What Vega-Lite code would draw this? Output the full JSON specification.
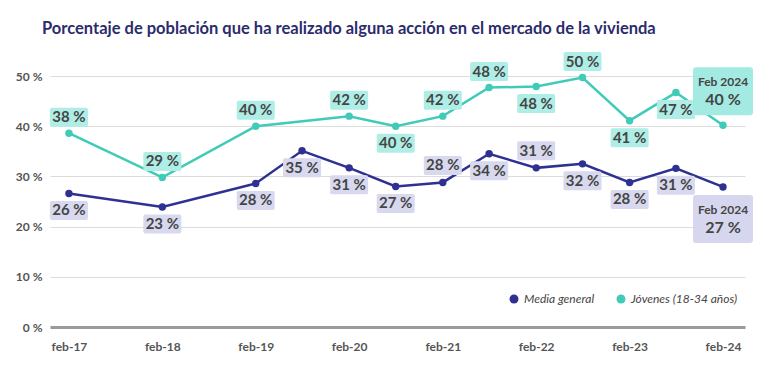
{
  "$schema": "https://vega.github.io/schema/vega-lite/v6.json",
  "width": 695,
  "height": 251,
  "autosize": {"type": "none"},
  "padding": {"left": 50, "top": 76, "right": 28, "bottom": 56},
  "background": "#ffffff",
  "title": {
    "text": "Porcentaje de población que ha realizado alguna acción en el mercado de la vivienda",
    "anchor": "start",
    "frame": "group",
    "dx": -8,
    "offset": 2,
    "baseline": "alphabetic",
    "font": "Lato",
    "fontSize": 16.5,
    "fontWeight": "bold",
    "color": "#2b2c6b"
  },
  "data": {
    "values": [
      {"fecha": "2017-02-15", "serie": "Media general", "valor": 26.6, "etiqueta": "26 %"},
      {"fecha": "2018-02-15", "serie": "Media general", "valor": 23.9, "etiqueta": "23 %"},
      {"fecha": "2019-02-15", "serie": "Media general", "valor": 28.6, "etiqueta": "28 %"},
      {"fecha": "2019-08-15", "serie": "Media general", "valor": 35.1, "etiqueta": "35 %"},
      {"fecha": "2020-02-15", "serie": "Media general", "valor": 31.7, "etiqueta": "31 %"},
      {"fecha": "2020-08-15", "serie": "Media general", "valor": 28.0, "etiqueta": "27 %"},
      {"fecha": "2021-02-15", "serie": "Media general", "valor": 28.8, "etiqueta": "28 %"},
      {"fecha": "2021-08-15", "serie": "Media general", "valor": 34.5, "etiqueta": "34 %"},
      {"fecha": "2022-02-15", "serie": "Media general", "valor": 31.7, "etiqueta": "31 %"},
      {"fecha": "2022-08-15", "serie": "Media general", "valor": 32.5, "etiqueta": "32 %"},
      {"fecha": "2023-02-15", "serie": "Media general", "valor": 28.8, "etiqueta": "28 %"},
      {"fecha": "2023-08-15", "serie": "Media general", "valor": 31.6, "etiqueta": "31 %"},
      {"fecha": "2024-02-15", "serie": "Media general", "valor": 27.9, "etiqueta": "27 %"},
      {"fecha": "2017-02-15", "serie": "Jóvenes (18-34 años)", "valor": 38.6, "etiqueta": "38 %"},
      {"fecha": "2018-02-15", "serie": "Jóvenes (18-34 años)", "valor": 29.8, "etiqueta": "29 %"},
      {"fecha": "2019-02-15", "serie": "Jóvenes (18-34 años)", "valor": 40.0, "etiqueta": "40 %"},
      {"fecha": "2020-02-15", "serie": "Jóvenes (18-34 años)", "valor": 42.0, "etiqueta": "42 %"},
      {"fecha": "2020-08-15", "serie": "Jóvenes (18-34 años)", "valor": 40.0, "etiqueta": "40 %"},
      {"fecha": "2021-02-15", "serie": "Jóvenes (18-34 años)", "valor": 42.0, "etiqueta": "42 %"},
      {"fecha": "2021-08-15", "serie": "Jóvenes (18-34 años)", "valor": 47.7, "etiqueta": "48 %"},
      {"fecha": "2022-02-15", "serie": "Jóvenes (18-34 años)", "valor": 47.9, "etiqueta": "48 %"},
      {"fecha": "2022-08-15", "serie": "Jóvenes (18-34 años)", "valor": 49.7, "etiqueta": "50 %"},
      {"fecha": "2023-02-15", "serie": "Jóvenes (18-34 años)", "valor": 41.1, "etiqueta": "41 %"},
      {"fecha": "2023-08-15", "serie": "Jóvenes (18-34 años)", "valor": 46.7, "etiqueta": "47 %"},
      {"fecha": "2024-02-15", "serie": "Jóvenes (18-34 años)", "valor": 40.2, "etiqueta": "40 %"}
    ]
  },
  "encoding": {
    "x": {
      "field": "fecha",
      "type": "temporal",
      "title": null,
      "scale": {
        "type": "utc",
        "domain": [
          {"year": 2016, "month": 12, "date": 3, "utc": true},
          {"year": 2024, "month": 5, "date": 11, "utc": true}
        ]
      },
      "axis": {
        "values": [
          {"year": 2017, "month": 2, "date": 15, "utc": true},
          {"year": 2018, "month": 2, "date": 15, "utc": true},
          {"year": 2019, "month": 2, "date": 15, "utc": true},
          {"year": 2020, "month": 2, "date": 15, "utc": true},
          {"year": 2021, "month": 2, "date": 15, "utc": true},
          {"year": 2022, "month": 2, "date": 15, "utc": true},
          {"year": 2023, "month": 2, "date": 15, "utc": true},
          {"year": 2024, "month": 2, "date": 15, "utc": true}
        ],
        "labelExpr": "lower(utcFormat(datum.value, '%b-%y'))",
        "grid": false,
        "ticks": false,
        "domain": false,
        "labelPadding": 14,
        "labelFont": "Lato",
        "labelFontSize": 12,
        "labelFontWeight": "bold",
        "labelColor": "#555555",
        "labelFlush": false,
        "labelOverlap": false
      }
    },
    "y": {
      "field": "valor",
      "type": "quantitative",
      "title": null,
      "scale": {"domain": [0, 50], "nice": false, "zero": true},
      "axis": {
        "values": [0, 10, 20, 30, 40, 50],
        "labelExpr": "datum.value + ' %'",
        "ticks": false,
        "domain": false,
        "labelPadding": 8,
        "labelFont": "Lato",
        "labelFontSize": 12,
        "labelFontWeight": "bold",
        "labelColor": "#555555",
        "gridColor": {"condition": {"test": "datum.value === 0", "value": "#9a9a9a"}, "value": "#dcdcdc"},
        "gridWidth": {"condition": {"test": "datum.value === 0", "value": 3}, "value": 1}
      }
    }
  },
  "layer": [
    {
      "mark": {"type": "line", "strokeWidth": 2.5, "clip": false},
      "encoding": {
        "color": {
          "field": "serie",
          "type": "nominal",
          "scale": {"domain": ["Media general", "Jóvenes (18-34 años)"], "range": ["#2e3192", "#40cbb9"]},
          "legend": {
            "title": null,
            "orient": "none",
            "legendX": 458,
            "legendY": 217,
            "direction": "horizontal",
            "symbolType": "circle",
            "symbolSize": 80,
            "symbolStrokeWidth": 0,
            "columnPadding": 20,
            "labelFont": "Lato",
            "labelFontSize": 12,
            "labelFontStyle": "italic",
            "labelColor": "#444444"
          }
        }
      }
    },
    {
      "mark": {"type": "point", "filled": true, "size": 55, "opacity": 1},
      "encoding": {
        "color": {"field": "serie", "type": "nominal"}
      }
    },
    {
      "transform": [{"filter": "datum.serie == 'Jóvenes (18-34 años)' && indexof(['2017-02','2018-02','2019-02','2020-02','2021-02','2021-08','2022-08'], utcFormat(toDate(datum.fecha), '%Y-%m')) >= 0"}],
      "layer": [
        {"mark": {"type": "point", "filled": true, "opacity": 1, "size": 1444, "color": "#aeeee6", "yOffset": -16, "shape": "M-0.9,-0.5H0.9Q1,-0.5 1,-0.4V0.4Q1,0.5 0.9,0.5H-0.9Q-1,0.5 -1,0.4V-0.4Q-1,-0.5 -0.9,-0.5Z"}},
        {"mark": {"type": "text", "font": "Lato", "fontSize": 15, "fontWeight": "bold", "color": "#454545", "baseline": "middle", "dy": -16}, "encoding": {"text": {"field": "etiqueta"}}}
      ]
    },
    {
      "transform": [{"filter": "datum.serie == 'Jóvenes (18-34 años)' && indexof(['2020-08','2022-02','2023-02','2023-08'], utcFormat(toDate(datum.fecha), '%Y-%m')) >= 0"}],
      "layer": [
        {"mark": {"type": "point", "filled": true, "opacity": 1, "size": 1444, "color": "#aeeee6", "yOffset": 17, "shape": "M-0.9,-0.5H0.9Q1,-0.5 1,-0.4V0.4Q1,0.5 0.9,0.5H-0.9Q-1,0.5 -1,0.4V-0.4Q-1,-0.5 -0.9,-0.5Z"}},
        {"mark": {"type": "text", "font": "Lato", "fontSize": 15, "fontWeight": "bold", "color": "#454545", "baseline": "middle", "dy": 17}, "encoding": {"text": {"field": "etiqueta"}}}
      ]
    },
    {
      "transform": [{"filter": "datum.serie == 'Media general' && indexof(['2021-02','2022-02'], utcFormat(toDate(datum.fecha), '%Y-%m')) >= 0"}],
      "layer": [
        {"mark": {"type": "point", "filled": true, "opacity": 1, "size": 1444, "color": "#d8d9ef", "yOffset": -17, "shape": "M-0.9,-0.5H0.9Q1,-0.5 1,-0.4V0.4Q1,0.5 0.9,0.5H-0.9Q-1,0.5 -1,0.4V-0.4Q-1,-0.5 -0.9,-0.5Z"}},
        {"mark": {"type": "text", "font": "Lato", "fontSize": 15, "fontWeight": "bold", "color": "#454545", "baseline": "middle", "dy": -17}, "encoding": {"text": {"field": "etiqueta"}}}
      ]
    },
    {
      "transform": [{"filter": "datum.serie == 'Media general' && indexof(['2017-02','2018-02','2019-02','2019-08','2020-02','2020-08','2021-08','2022-08','2023-02','2023-08'], utcFormat(toDate(datum.fecha), '%Y-%m')) >= 0"}],
      "layer": [
        {"mark": {"type": "point", "filled": true, "opacity": 1, "size": 1444, "color": "#d8d9ef", "yOffset": 17, "shape": "M-0.9,-0.5H0.9Q1,-0.5 1,-0.4V0.4Q1,0.5 0.9,0.5H-0.9Q-1,0.5 -1,0.4V-0.4Q-1,-0.5 -0.9,-0.5Z"}},
        {"mark": {"type": "text", "font": "Lato", "fontSize": 15, "fontWeight": "bold", "color": "#454545", "baseline": "middle", "dy": 17}, "encoding": {"text": {"field": "etiqueta"}}}
      ]
    },
    {
      "transform": [{"filter": "datum.serie == 'Jóvenes (18-34 años)' && utcFormat(toDate(datum.fecha), '%Y-%m') == '2024-02'"}],
      "layer": [
        {"mark": {"type": "point", "filled": true, "opacity": 1, "size": 3600, "color": "#a3ebe2", "yOffset": -34, "shape": "M-0.9,-0.8H0.9Q1,-0.8 1,-0.7V0.7Q1,0.8 0.9,0.8H-0.9Q-1,0.8 -1,0.7V-0.7Q-1,-0.8 -0.9,-0.8Z"}},
        {"mark": {"type": "text", "font": "Lato", "fontSize": 12, "fontWeight": "bold", "color": "#454545", "baseline": "middle", "dy": -43}, "encoding": {"text": {"field": "fecha", "type": "temporal", "timeUnit": "utcyearmonth", "format": "%b %Y"}}},
        {"mark": {"type": "text", "font": "Lato", "fontSize": 16, "fontWeight": "bold", "color": "#454545", "baseline": "middle", "dy": -25}, "encoding": {"text": {"field": "etiqueta"}}}
      ]
    },
    {
      "transform": [{"filter": "datum.serie == 'Media general' && utcFormat(toDate(datum.fecha), '%Y-%m') == '2024-02'"}],
      "layer": [
        {"mark": {"type": "point", "filled": true, "opacity": 1, "size": 3600, "color": "#d6d7ef", "yOffset": 32, "shape": "M-0.9,-0.8H0.9Q1,-0.8 1,-0.7V0.7Q1,0.8 0.9,0.8H-0.9Q-1,0.8 -1,0.7V-0.7Q-1,-0.8 -0.9,-0.8Z"}},
        {"mark": {"type": "text", "font": "Lato", "fontSize": 12, "fontWeight": "bold", "color": "#454545", "baseline": "middle", "dy": 23}, "encoding": {"text": {"field": "fecha", "type": "temporal", "timeUnit": "utcyearmonth", "format": "%b %Y"}}},
        {"mark": {"type": "text", "font": "Lato", "fontSize": 16, "fontWeight": "bold", "color": "#454545", "baseline": "middle", "dy": 41}, "encoding": {"text": {"field": "etiqueta"}}}
      ]
    }
  ],
  "config": {
    "view": {"stroke": null},
    "font": "Lato"
  }
}
